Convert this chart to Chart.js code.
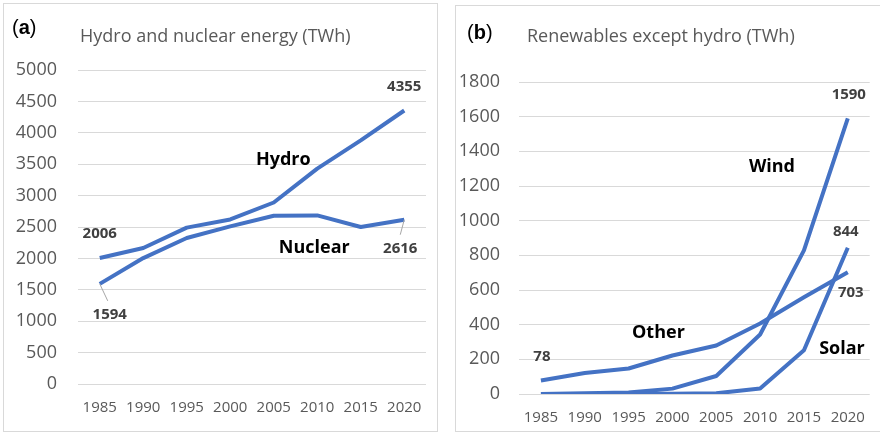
<!DOCTYPE html>
<html>
<head>
<meta charset="utf-8">
<script src="https://cdn.jsdelivr.net/npm/chart.js@4.4.1/dist/chart.umd.min.js"></script>
<style>
  body { margin: 0; background: #fff; width: 880px; height: 432px; position: relative; overflow: hidden; }
  .panel { position: absolute; border: 1px solid #d9d9d9; box-sizing: border-box; }
  canvas { position: absolute; top: 0; }
  .tag { position: absolute; font-family: "Liberation Sans", Arial, sans-serif; font-size: 20px; line-height: 20px; color: #000; }
  .title { position: absolute; font-family: "Open Sans", sans-serif; font-size: 18px; line-height: 20px; color: #595959; white-space: nowrap; }
</style>
</head>
<body>
<div class="panel" style="left:3px; top:3px; width:435px; height:429px;"></div>
<div class="panel" style="left:455px; top:5px; width:426px; height:427px;"></div>
<canvas id="chartA" width="440" height="432" style="left:0"></canvas>
<canvas id="chartB" width="440" height="432" style="left:440px"></canvas>
<div class="tag" style="left:12px; top:17px;">(<b>a</b>)</div>
<div class="title" style="left:80px; top:25px;">Hydro and nuclear energy (TWh)</div>
<div class="tag" style="left:467px; top:22px;">(<b>b</b>)</div>
<div class="title" style="left:527px; top:25px;">Renewables except hydro (TWh)</div>
<script>
var years = ['1985', '1990', '1995', '2000', '2005', '2010', '2015', '2020'];
var hydro = [2006, 2165, 2490, 2620, 2890, 3430, 3880, 4355];
var nuclear = [1594, 2005, 2324, 2510, 2680, 2685, 2500, 2616];
var other = [78, 121, 147, 222, 280, 407, 558, 703];
var wind = [0, 4, 8, 31, 104, 343, 829, 1590];
var solar = [0, 0, 1, 1, 4, 32, 252, 844];

var blue = '#4472C4';
var tickColor = '#595959';
var gridColor = '#d9d9d9';

// text labels drawn next to data points
var labelPlugin = {
    id: 'labels',
    afterDatasetsDraw: function (chart) {
        var items = chart.options.plugins.labels.items || [];
        var ctx = chart.ctx;
        var xs = chart.scales.x, ys = chart.scales.y;
        ctx.save();
        items.forEach(function (it) {
            var v = chart.data.datasets[it.ds].data[it.i];
            var px = xs.getPixelForValue(it.i);
            var py = ys.getPixelForValue(v);
            if (it.leader) {
                ctx.strokeStyle = '#a6a6a6';
                ctx.lineWidth = 1;
                ctx.beginPath();
                ctx.moveTo(px, py);
                ctx.lineTo(px + it.leader[0], py + it.leader[1]);
                ctx.stroke();
            }
            ctx.font = 'bold ' + it.size + 'px "Open Sans", sans-serif';
            ctx.fillStyle = it.color;
            ctx.textAlign = 'center';
            ctx.textBaseline = 'middle';
            ctx.fillText(it.text, px + it.dx, py + it.dy);
        });
        ctx.restore();
    }
};

function lineSet(data) {
    return {
        data: data,
        borderColor: blue,
        borderWidth: 4,
        pointRadius: 0,
        tension: 0,
        borderJoinStyle: 'round',
        fill: false
    };
}

function makeOptions(yMax, yStep, yWidth, yPad, xHeight, top, right, items) {
    return {
        responsive: false,
        animation: false,
        layout: { padding: { top: top, right: right, left: 0, bottom: 0 } },
        plugins: {
            legend: { display: false },
            tooltip: { enabled: false },
            labels: { items: items }
        },
        scales: {
            x: {
                offset: true,
                grid: { display: false, drawTicks: false },
                border: { display: false },
                ticks: { color: tickColor, padding: 15, font: { family: 'Open Sans', size: 15 }, maxRotation: 0 },
                afterFit: function (s) { s.height = xHeight; }
            },
            y: {
                min: 0,
                max: yMax,
                grid: { color: gridColor, lineWidth: 1, drawTicks: false },
                border: { display: false },
                ticks: {
                    stepSize: yStep,
                    color: tickColor,
                    padding: yPad,
                    font: { family: 'Open Sans', size: 18 },
                    callback: function (v) { return String(v); }
                },
                afterFit: function (s) { s.width = yWidth; }
            }
        }
    };
}

var valColor = '#404040';

new Chart(document.getElementById('chartA').getContext('2d'), {
    type: 'line',
    data: {
        labels: years,
        datasets: [lineSet(nuclear), lineSet(hydro)]
    },
    options: makeOptions(5000, 500, 78, 21, 48, 70, 14, [
        { text: '4355', ds: 1, i: 7, dx: 0, dy: -24, size: 15, color: valColor },
        { text: '2006', ds: 1, i: 0, dx: 0, dy: -24, size: 15, color: valColor },
        { text: '1594', ds: 0, i: 0, dx: 10, dy: 31, size: 15, color: valColor, leader: [8, 17] },
        { text: '2616', ds: 0, i: 7, dx: -4, dy: 29, size: 15, color: valColor, leader: [-4, 15] },
        { text: 'Hydro', ds: 1, i: 5, dx: -34, dy: -9, size: 18, color: '#000' },
        { text: 'Nuclear', ds: 0, i: 5, dx: -3, dy: 32, size: 18, color: '#000' }
    ]),
    plugins: [labelPlugin]
});

new Chart(document.getElementById('chartB').getContext('2d'), {
    type: 'line',
    data: {
        labels: years,
        datasets: [lineSet(other), lineSet(wind), lineSet(solar)]
    },
    options: makeOptions(1800, 200, 79, 19, 38, 82, 1, [
        { text: '1590', ds: 1, i: 7, dx: 1, dy: -24, size: 15, color: valColor },
        { text: '844', ds: 2, i: 7, dx: -2, dy: -16, size: 15, color: valColor },
        { text: '703', ds: 0, i: 7, dx: 3, dy: 21, size: 15, color: valColor },
        { text: '78', ds: 0, i: 0, dx: 1, dy: -24, size: 15, color: valColor },
        { text: 'Wind', ds: 1, i: 6, dx: -32, dy: -83, size: 18, color: '#000' },
        { text: 'Other', ds: 0, i: 3, dx: -14, dy: -23, size: 18, color: '#000' },
        { text: 'Solar', ds: 2, i: 6, dx: 38, dy: -1, size: 18, color: '#000' }
    ]),
    plugins: [labelPlugin]
});
</script>
</body>
</html>
